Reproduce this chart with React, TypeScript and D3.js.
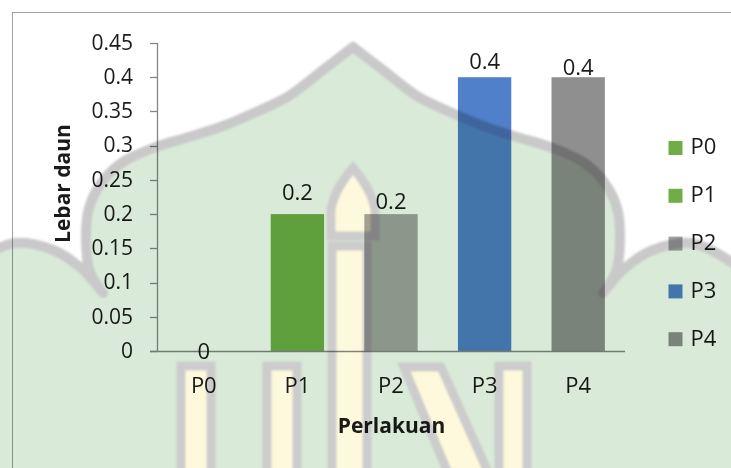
import React from 'react';
import * as d3 from 'd3';

// Mean leaf width per treatment
const categories = ['P0', 'P1', 'P2', 'P3', 'P4'];
const values = [0, 0.2, 0.2, 0.4, 0.4];
const seriesColors = ['#70ad47', '#70ad47', '#a5a5a5', '#5080c9', '#8f8f8f'];
const yTickValues = [0, 0.05, 0.1, 0.15, 0.2, 0.25, 0.3, 0.35, 0.4, 0.45];
const yTickLabels = ['0', '0.05', '0.1', '0.15', '0.2', '0.25', '0.3', '0.35', '0.4', '0.45'];
const legendLabels = ['P0', 'P1', 'P2', 'P3', 'P4'];
const valueLabels = ['0', '0.2', '0.2', '0.4', '0.4'];

// distance from bar top to the value label baseline
const valueLabelGap = [-8, 14, 5.5, 8.5, 2.5];

const W = 731;
const H = 468;
const FONT = "'Open Sans', 'Noto Sans', sans-serif";
const TEXT = '#1a1a1a';
const AXIS = '#868686';

const x = d3.scaleBand<string>().domain(categories).range([157, 625]).paddingInner(0.43).paddingOuter(0.215);
const y = d3.scaleLinear().domain([0, 0.45]).range([351, 43]);

// background emblem: dome silhouette built from smooth segments
type Pt = [number, number];
const mirror = (pts: Pt[]): Pt[] => pts.map(([px, py]) => [706 - px, py] as Pt).reverse();
const domeRight: Pt[] = [[353, 47], [383, 70], [417, 96], [450, 112], [483, 126], [517, 137], [550, 147], [583, 162], [604, 182], [617, 208], [620, 240], [616, 272], [603, 293]];
const smallDomeRight: Pt[] = [[603, 293], [625, 268], [653, 250], [690, 243], [731, 262], [770, 300]];
const segments: Pt[][] = [
  [[-64, 520], [-64, 300]],
  mirror(smallDomeRight),
  mirror(domeRight),
  domeRight,
  smallDomeRight,
  [[770, 300], [770, 520]],
];
const curveLine = d3.line<Pt>().curve(d3.curveCatmullRom.alpha(0.5));
const silhouette = segments
  .map((seg, i) => {
    const d = curveLine(seg) || '';
    return i === 0 ? d : d.replace(/^M[^A-Za-z]*/, '');
  })
  .join('') + 'Z';

const archPath = 'M331,236 L331,210 Q334,190 353,168 Q372,190 375,210 L375,236 Z';
const diagPath = 'M404,367 L441,367 L496,490 L455,490 Z';

export default function App() {
  return (
    <svg width={W} height={H} style={{ position: 'absolute', left: 0, top: 0 }} fontFamily={FONT}>
      <defs>
        <filter id="soft" x="-10%" y="-10%" width="120%" height="120%">
          <feGaussianBlur stdDeviation="1.3" />
        </filter>
      </defs>
      <rect x={0} y={0} width={W} height={H} fill="#ffffff" />
      <rect x={12.5} y={12.5} width={760} height={520} fill="none" stroke="#a0a0a0" strokeWidth={1} />

      {/* axes */}
      <line x1={157.5} x2={157.5} y1={y(0.45)} y2={y(0)} stroke={AXIS} strokeWidth={1.3} />
      {yTickValues.map((v, i) => (
        <g key={'t' + i}>
          <line x1={150} x2={157.5} y1={Math.round(y(v)) + 0.5} y2={Math.round(y(v)) + 0.5} stroke={AXIS} strokeWidth={1.3} />
          <text x={133} y={y(v) + 6.8} textAnchor="end" fontSize={21} fill={TEXT}>{yTickLabels[i]}</text>
        </g>
      ))}

      {/* bars */}
      {categories.map((c, i) => (
        <rect key={'b' + c} x={x(c)} y={y(values[i])} width={x.bandwidth()} height={y(0) - y(values[i])} fill={seriesColors[i]} />
      ))}
      <line x1={150} x2={625} y1={351.5} y2={351.5} stroke={AXIS} strokeWidth={1.3} />

      {/* value labels */}
      {categories.map((c, i) => (
        <text key={'v' + c} x={(x(c) as number) + x.bandwidth() / 2} y={y(values[i]) - valueLabelGap[i]} textAnchor="middle" fontSize={22} fill={TEXT}>
          {valueLabels[i]}
        </text>
      ))}

      {/* category labels */}
      {categories.map((c) => (
        <text key={'c' + c} x={(x(c) as number) + x.bandwidth() / 2} y={392.7} textAnchor="middle" fontSize={22} fill={TEXT}>{c}</text>
      ))}

      <text x={391.5} y={433} textAnchor="middle" fontSize={21} fontWeight="bold" fill={TEXT}>Perlakuan</text>
      <text transform="translate(70,183.5) rotate(-90)" textAnchor="middle" fontSize={21} fontWeight="bold" fill={TEXT}>Lebar daun</text>

      {/* legend */}
      {legendLabels.map((l, i) => {
        const cy = 148 + i * 47.8;
        return (
          <g key={'l' + l}>
            <rect x={668.5} y={cy - 7} width={14} height={14} fill={seriesColors[i]} />
            <text x={690.5} y={cy + 6.4} fontSize={22} fill={TEXT}>{l}</text>
          </g>
        );
      })}

      {/* emblem overlay */}
      <g style={{ mixBlendMode: 'multiply' }} filter="url(#soft)">
        <path d={silhouette} fill="#d9ead8" stroke="#c9c9c9" strokeWidth={10} strokeLinejoin="round" />
        <g fill="#fef9dc" stroke="#cccccc" strokeWidth={9}>
          <path d={archPath} />
          <rect x={332} y={246} width={35} height={280} />
          <rect x={181} y={366} width={30} height={160} />
          <rect x={267} y={366} width={30} height={160} />
          <path d={diagPath} />
          <rect x={499} y={366} width={28} height={160} />
        </g>
      </g>
    </svg>
  );
}
